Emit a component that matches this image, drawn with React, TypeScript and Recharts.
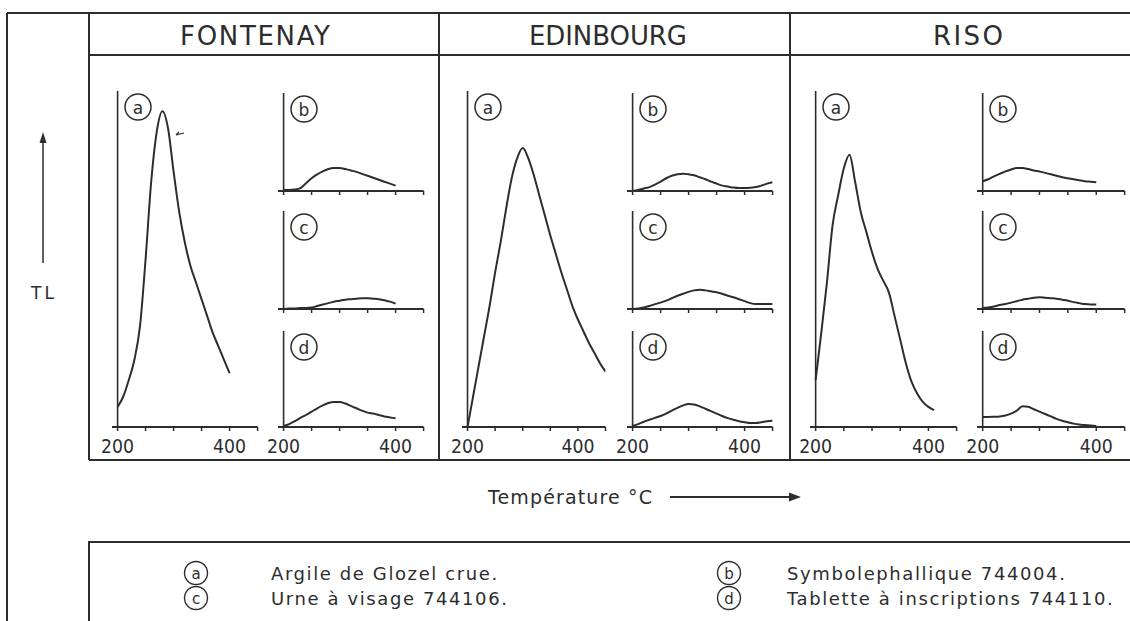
import React from 'react';
import { LineChart, Line, XAxis, YAxis, ReferenceLine } from 'recharts';

// temperature grid (°C), one value per step in each series
const TEMPS = [200, 210, 220, 230, 240, 250, 260, 270, 280, 290, 300, 310, 320, 330, 340, 350, 360, 370, 380, 390, 400, 410, 420, 430, 440, 450];
const TICKS = [200, 250, 300, 350, 400, 450];
const LABELLED_TICKS = [200, 400];

const SITES = ['FONTENAY', 'EDINBOURG', 'RISO'];

// TL glow, arbitrary units (0-100 of axis height)
const FONTENAY_A = [6, 9, 14, 20, 30, 50, 73, 88, 94, 89, 76, 64, 55, 48, 43, 38, 33, 28, 24, 20, 16];
const FONTENAY_B = [1, 1, 1.5, 3, 8, 13, 17, 20, 22.5, 23.5, 23.5, 22.5, 21, 19.5, 17.5, 15.5, 13.5, 11.5, 9.5, 7.5, 5.5];
const FONTENAY_C = [0, 0.5, 0.5, 1, 1, 1.5, 3, 4.5, 6, 7.5, 8.5, 9.5, 10, 10.5, 11, 11, 10.5, 10, 9, 7.5, 5.5];
const FONTENAY_D = [1, 3, 6, 9.5, 12.5, 16, 19.5, 22.5, 25, 26, 26, 24.5, 22, 19.5, 17, 15, 14, 12.5, 11, 10, 9];

const EDINBOURG_A = [0, 9, 18, 27, 36, 46, 55, 65, 74, 80, 83, 80, 75, 69, 63, 57, 51.5, 46, 41, 36, 32, 28.5, 25, 22, 19, 16.5];
const EDINBOURG_B = [0, 1, 2.5, 4, 6.5, 9.5, 13, 15.5, 17, 17.7, 17, 16, 14, 12, 9.5, 7.5, 5.5, 4.5, 3.5, 3, 3, 3.2, 4, 5.5, 7.5, 9];
const EDINBOURG_C = [0, 0.5, 1.5, 3, 5, 6.5, 8.5, 11, 13.5, 15.5, 17.5, 19, 19.6, 19, 18, 17, 15.5, 13.5, 12, 10, 8, 6, 5, 5, 5, 5];
const EDINBOURG_D = [1, 3, 5.5, 7.5, 9.5, 11.5, 14, 17, 20, 22.5, 24, 23.5, 21.5, 19, 16.5, 14, 11.5, 9.3, 7.5, 6, 5, 4.2, 4.2, 5, 6, 6.5];

const RISO_A = [14, 28, 43, 60, 69, 77, 81, 73, 64, 58, 52, 47, 43.5, 40, 33, 26, 19, 13.5, 10, 7.5, 6, 5];
const RISO_B = [10, 12, 15, 17.5, 20, 22, 23.5, 23.5, 22.5, 21, 20, 18.5, 17, 15.5, 14, 13, 12, 11, 10, 9.5, 9];
const RISO_C = [1, 1.5, 2.5, 4, 5, 6.5, 8, 9.5, 10.5, 11.5, 12, 11.5, 11, 10.5, 9.5, 8.5, 7, 6, 5, 4.5, 4.5];
const RISO_D = [10.5, 10.5, 10.7, 11, 12, 14, 17, 21.5, 21, 18.5, 16, 13.5, 11, 8.5, 6.5, 5, 3.5, 2.5, 2, 1.5, 1];

const LEGEND_KEYS = ['a', 'b', 'c', 'd'];
const LEGEND_TEXTS = [
  'Argile de Glozel crue.',
  'Symbolephallique 744004.',
  'Urne à visage 744106.',
  'Tablette à inscriptions 744110.',
];

const INK = '#2d2d2d';
const FONT = "'DejaVu Sans', sans-serif";
const PAD = 24; // room for the "200" label left of the axis

type CurveProps = {
  letter: string;
  values: number[];
  x200: number;
  x450: number;
  top: number;
  base: number;
  labels?: boolean;
};

function Curve({ letter, values, x200, x450, top, base, labels }: CurveProps) {
  const k = (x450 - x200) / 250;
  const left = x200 - 10 * k;
  const w = x450 - left;
  const h = base - top;
  const data = TEMPS.map((t, i) => ({ t, v: i < values.length ? values[i] : null }));

  const renderTick = (p: any) => {
    const { x, y, payload } = p;
    if (!labels || !LABELLED_TICKS.includes(payload.value)) return <g />;
    return (
      <text x={x} y={y + 13} textAnchor="middle" dominantBaseline="central" fontSize={20}
        fill={INK} fontFamily={FONT} textLength={33} lengthAdjust="spacingAndGlyphs">
        {payload.value}
      </text>
    );
  };

  return (
    <div style={{ position: 'absolute', left: left - PAD, top }}>
      <LineChart width={w + PAD + 4} height={h + 32} data={data} margin={{ top: 0, right: 4, bottom: 0, left: PAD }}>
        <XAxis dataKey="t" type="number" domain={[190, 450]} ticks={TICKS} interval={0} allowDataOverflow
          height={32} tickSize={4} tickMargin={2} tick={renderTick}
          axisLine={{ stroke: INK, strokeWidth: 2 }} tickLine={{ stroke: INK, strokeWidth: 1.5 }} />
        <YAxis hide type="number" domain={[0, 100]} />
        <ReferenceLine x={200} stroke={INK} strokeWidth={1.6} />
        <Line dataKey="v" type="monotone" stroke={INK} strokeWidth={2} dot={false}
          isAnimationActive={false} connectNulls={false} />
      </LineChart>
      <svg width={30} height={30} style={{ position: 'absolute', left: PAD + x200 - left + 5, top: 1 }}>
        <circle cx={15} cy={15} r={13} fill="#fff" stroke={INK} strokeWidth={1.5} />
        <text x={15} y={15.5} textAnchor="middle" dominantBaseline="central" fontSize={17} fill={INK} fontFamily={FONT}>
          {letter}
        </text>
      </svg>
    </div>
  );
}

// column geometry (page px)
const COLS = [
  { big: [118, 258], small: [284, 424], series: [FONTENAY_A, FONTENAY_B, FONTENAY_C, FONTENAY_D] },
  { big: [468, 606], small: [633, 773], series: [EDINBOURG_A, EDINBOURG_B, EDINBOURG_C, EDINBOURG_D] },
  { big: [816, 957], small: [983, 1125], series: [RISO_A, RISO_B, RISO_C, RISO_D] },
];
const SMALL_ROWS = [
  { top: 93, base: 191 },
  { top: 211, base: 309 },
  { top: 331, base: 427 },
];
const HEADER_X = [255, 608, 968];
const HEADER_W = [150, 158, 70];

export default function App() {
  return (
    <div style={{ position: 'absolute', left: 0, top: 0, width: 1130, height: 621, background: '#fff', overflow: 'hidden' }}>
      {COLS.map((c, ci) => (
        <React.Fragment key={ci}>
          <Curve letter="a" values={c.series[0]} x200={c.big[0]} x450={c.big[1]} top={91} base={427} labels />
          {SMALL_ROWS.map((r, ri) => (
            <Curve key={ri} letter={LEGEND_KEYS[ri + 1]} values={c.series[ri + 1]} x200={c.small[0]} x450={c.small[1]}
              top={r.top} base={r.base} labels={ri === 2} />
          ))}
        </React.Fragment>
      ))}

      <svg width={1130} height={621} style={{ position: 'absolute', left: 0, top: 0, pointerEvents: 'none' }}>
        <g stroke={INK} strokeWidth={2} fill="none">
          <path d="M7 13 H1130 M7 13 V621 M89 13 V460 M89 55 H1130 M89 460 H1130 M439 13 V460 M790 13 V460" />
          <path d="M89 621 V542 H1130" />
          <path d="M43 263 V140" strokeWidth={1.5} />
          <path d="M670 497 H792" strokeWidth={1.8} />
          <path d="M176 135 L184 133 M176 135 L179 132" strokeWidth={1.2} />
        </g>
        <polygon points="43,132 39.5,143 46.5,143" fill={INK} />
        <polygon points="801,497 789,492.5 789,501.5" fill={INK} />

        {SITES.map((s, i) => (
          <text key={s} x={HEADER_X[i]} y={36} textAnchor="middle" dominantBaseline="central" fontSize={26}
            fill={INK} fontFamily={FONT} textLength={HEADER_W[i]} lengthAdjust="spacing">
            {s}
          </text>
        ))}

        <text x={31} y={293} dominantBaseline="central" fontSize={17} fill={INK}
          fontFamily={FONT} textLength={23} lengthAdjust="spacing">TL</text>
        <text x={488} y={497} dominantBaseline="central" fontSize={19} fill={INK} fontFamily={FONT}
          textLength={164} lengthAdjust="spacing">Température °C</text>

        {LEGEND_TEXTS.map((t, i) => {
          const col = i % 2;
          const row = Math.floor(i / 2);
          const cx = col === 0 ? 196 : 729;
          const tx = col === 0 ? 271 : 787;
          const y = row === 0 ? 573 : 598;
          return (
            <g key={t}>
              <circle cx={cx} cy={y} r={11.5} fill="#fff" stroke={INK} strokeWidth={1.4} />
              <text x={cx} y={y + 0.5} textAnchor="middle" dominantBaseline="central" fontSize={15} fill={INK} fontFamily={FONT}>
                {LEGEND_KEYS[i]}
              </text>
              <text x={tx} y={y} dominantBaseline="central" fontSize={18} letterSpacing={1.6} fill={INK} fontFamily={FONT}>
                {t}
              </text>
            </g>
          );
        })}
      </svg>
    </div>
  );
}
